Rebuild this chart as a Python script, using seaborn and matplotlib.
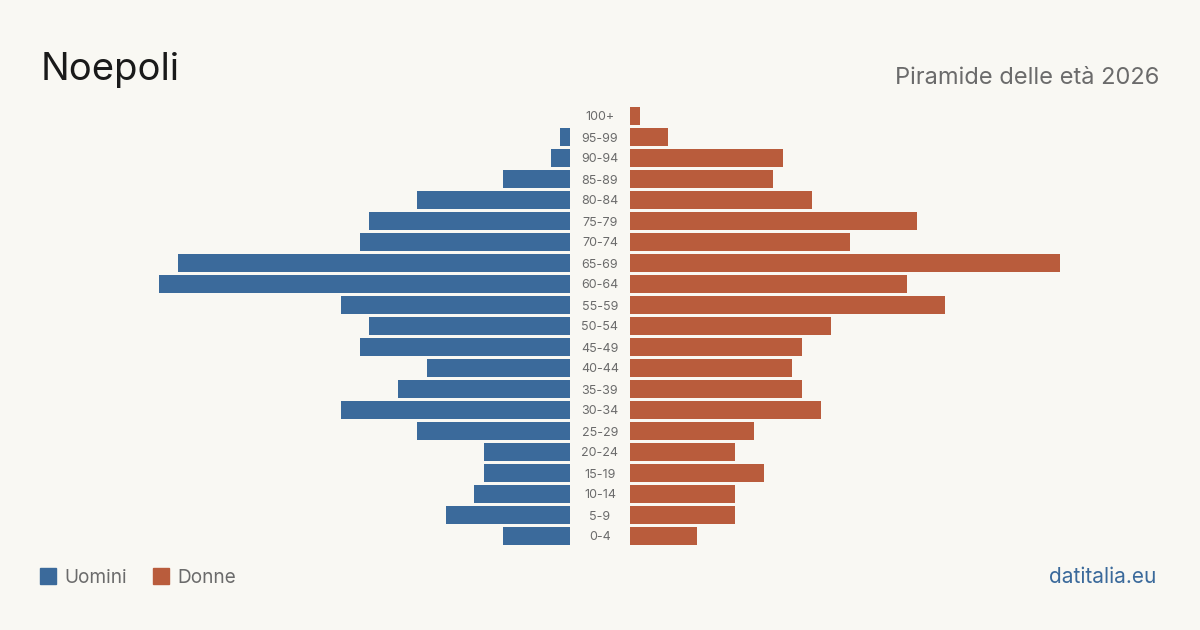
import matplotlib
matplotlib.use("Agg")
import matplotlib.pyplot as plt
import matplotlib.transforms as mtransforms
from matplotlib.patches import Rectangle
import seaborn as sns
import pandas as pd

ages = ["100+", "95-99", "90-94", "85-89", "80-84", "75-79", "70-74", "65-69",
        "60-64", "55-59", "50-54", "45-49", "40-44", "35-39", "30-34", "25-29",
        "20-24", "15-19", "10-14", "5-9", "0-4"]
men = [0, 1, 2, 7, 16, 21, 22, 41, 43, 24, 21, 22, 15, 18, 24, 16, 9, 9, 10, 13, 7]
women = [1, 4, 16, 15, 19, 30, 23, 45, 29, 33, 21, 18, 17, 18, 20, 13, 11, 14, 11, 11, 7]

BG = "#f9f8f3"
BLUE = "#3b6a9b"
ORANGE = "#b95c3c"
GRAY = "#6b6b6b"

sns.set_theme(style="white")
plt.rcParams["font.family"] = ["Inter", "DejaVu Sans"]

df = pd.DataFrame({"age": ages, "men": men, "women": women})

W, H = 1200, 630
fig = plt.figure(figsize=(12, 6.3), dpi=100, facecolor=BG)

xmax = 45
top_px, bot_px = 105.5, 546.5
axL = fig.add_axes([140 / W, 1 - bot_px / H, 430 / W, (bot_px - top_px) / H])
axR = fig.add_axes([630 / W, 1 - bot_px / H, 430 / W, (bot_px - top_px) / H])

sns.barplot(data=df, y="age", x="men", order=ages, orient="h", color=BLUE,
            width=0.81, ax=axL, saturation=1, linewidth=0, edgecolor="none")
sns.barplot(data=df, y="age", x="women", order=ages, orient="h", color=ORANGE,
            width=0.81, ax=axR, saturation=1, linewidth=0, edgecolor="none")

for ax in (axL, axR):
    ax.set_facecolor("none")
    ax.set_ylim(len(ages) - 0.5, -0.5)
    ax.set_xlabel("")
    ax.set_ylabel("")
    ax.set_xticks([])
    ax.set_yticks([])
    for s in ax.spines.values():
        s.set_visible(False)
axL.set_xlim(xmax, 0)
axR.set_xlim(0, xmax)

trans = mtransforms.blended_transform_factory(fig.transFigure, axR.transData)
for i, a in enumerate(ages):
    axR.text(600 / W, i, a, transform=trans, ha="center", va="center_baseline",
             fontsize=9, color=GRAY, clip_on=False)

fig.text(41 / W, 1 - 80 / H, "Noepoli", fontsize=27.5, color="#1a1a1a",
         ha="left", va="baseline")
fig.text(1159 / W, 1 - 84 / H, "Piramide delle età 2026", fontsize=17,
         color=GRAY, ha="right", va="baseline")

# legend
fig.patches.append(Rectangle((40 / W, 1 - 584 / H), 16 / W, 16 / H,
                             transform=fig.transFigure, color=BLUE))
fig.text(64 / W, 1 - 583 / H, "Uomini", fontsize=13.7, color=GRAY,
         ha="left", va="baseline")
fig.patches.append(Rectangle((153 / W, 1 - 584 / H), 16 / W, 16 / H,
                             transform=fig.transFigure, color=ORANGE))
fig.text(177 / W, 1 - 583 / H, "Donne", fontsize=13.7, color=GRAY,
         ha="left", va="baseline")

fig.text(1156 / W, 1 - 583 / H, "datitalia.eu", fontsize=15, color=BLUE,
         ha="right", va="baseline")

fig.savefig("out.png", dpi=100, facecolor=BG)
